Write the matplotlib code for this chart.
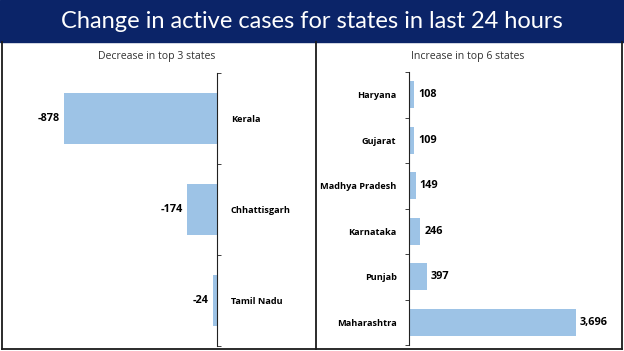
import matplotlib.pyplot as plt
import numpy as np

# --- DATI ---
dec_states = ['Kerala', 'Chhattisgarh', 'Tamil Nadu']
dec_values = [-878, -174, -24]
inc_states = ['Haryana', 'Gujarat', 'Madhya Pradesh', 'Karnataka', 'Punjab', 'Maharashtra']
inc_values = [108, 109, 149, 246, 397, 3696]

W, H = 624, 351
bar_color = '#9DC3E6'
navy = '#0B2468'
font_lbl = 'Open Sans'

fig = plt.figure(figsize=(W / 100, H / 100), dpi=100)

def fx(px):
    return px / W

def fy(py):
    return 1 - py / H

# banner
fig.patches.append(plt.Rectangle((0, fy(42)), 1, 1 - fy(42), transform=fig.transFigure,
                                 color=navy, zorder=0))
fig.text(0.5, fy(21), 'Change in active cases for states in last 24 hours', color='white',
         ha='center', va='center', fontsize=17, family='Lato')

# bordi
for xs, ys in [([2, 2], [42, 349]), ([622, 622], [42, 349]), ([2, 622], [349, 349]),
               ([315.5, 315.5], [42, 349])]:
    fig.add_artist(plt.Line2D([fx(x) for x in xs], [fy(y) for y in ys],
                              transform=fig.transFigure, color='#1a1a1a', lw=1.3))

fig.text(fx(157), fy(56), 'Decrease in top 3 states', ha='center', va='center',
         fontsize=7.6, family=font_lbl, color='#333333')
fig.text(fx(468), fy(56), 'Increase in top 6 states', ha='center', va='center',
         fontsize=7.6, family=font_lbl, color='#333333')

# --- Pannello sinistro ---
ax1 = fig.add_axes([fx(10), fy(346), fx(217 - 10), (346 - 73) / H])
y1 = np.arange(len(dec_states))
ax1.barh(y1, dec_values, height=0.57, color=bar_color)
ax1.set_xlim(-1190, 0)
ax1.set_ylim(len(dec_states) - 0.5, -0.5)
for s in ['left', 'top', 'bottom']:
    ax1.spines[s].set_visible(False)
ax1.spines['right'].set_color('#222222')
ax1.set_xticks([])
ax1.yaxis.tick_right()
ax1.set_yticks(y1)
ax1.set_yticklabels(dec_states, fontsize=6.6, fontweight='bold', family=font_lbl)
ax1.set_yticks(np.arange(len(dec_states) + 1) - 0.5, minor=True)
ax1.tick_params(axis='y', which='major', length=0, pad=10)
ax1.tick_params(axis='y', which='minor', right=True, left=False, direction='out',
                length=3, color='#222222')
for y, v in zip(y1, dec_values):
    ax1.text(v - 25, y, f'{v:,}', ha='right', va='center', fontsize=7.8,
             fontweight='bold', family=font_lbl)

# --- Pannello destro ---
ax2 = fig.add_axes([fx(409), fy(345), fx(615 - 409), (345 - 72) / H])
y2 = np.arange(len(inc_states))
ax2.barh(y2, inc_values, height=0.59, color=bar_color)
ax2.set_xlim(0, 4560)
ax2.set_ylim(len(inc_states) - 0.5, -0.5)
for s in ['right', 'top', 'bottom']:
    ax2.spines[s].set_visible(False)
ax2.spines['left'].set_color('#222222')
ax2.set_xticks([])
ax2.set_yticks(y2)
ax2.set_yticklabels(inc_states, fontsize=6.6, fontweight='bold', family=font_lbl)
ax2.set_yticks(np.arange(len(inc_states) + 1) - 0.5, minor=True)
ax2.tick_params(axis='y', which='major', length=0, pad=9)
ax2.tick_params(axis='y', which='minor', left=True, direction='out',
                length=3, color='#222222')
for y, v in zip(y2, inc_values):
    ax2.text(v + 90, y, f'{v:,}', ha='left', va='center', fontsize=7.8,
             fontweight='bold', family=font_lbl)

fig.savefig('out.png', dpi=100)
